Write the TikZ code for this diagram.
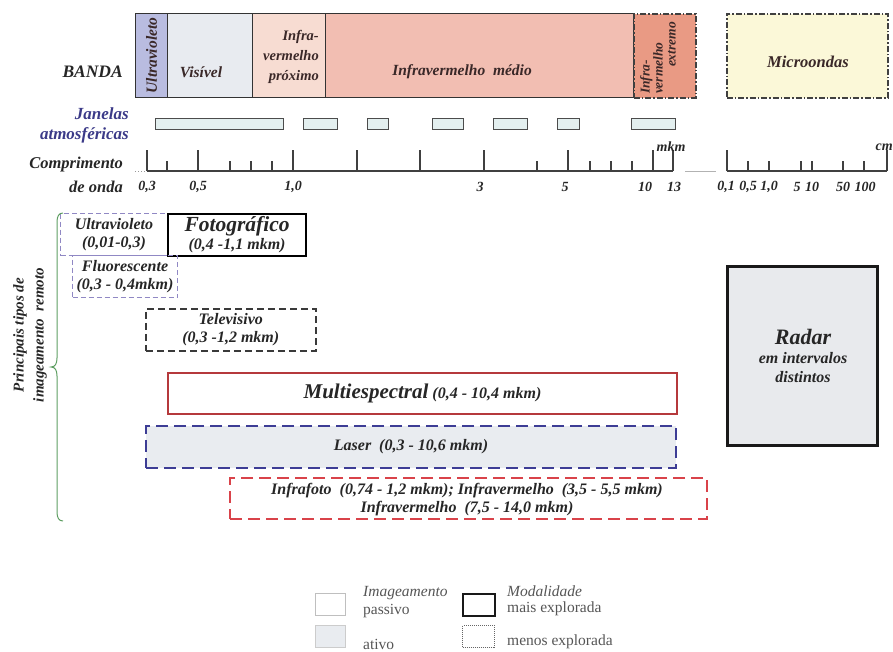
\documentclass[tikz,border=0pt]{standalone}
\usepackage{fontspec}
\setmainfont{Liberation Serif}
\definecolor{uvfill}{HTML}{B9BCE0}
\definecolor{visfill}{HTML}{E8EBF0}
\definecolor{nirfill}{HTML}{F7DCD2}
\definecolor{mirfill}{HTML}{F2BEB2}
\definecolor{firfill}{HTML}{E99A84}
\definecolor{mwfill}{HTML}{FBF8D8}
\definecolor{winfill}{HTML}{E3EFEF}
\definecolor{bandtext}{HTML}{3A2828}
\definecolor{navytext}{HTML}{3B3A88}
\definecolor{lav}{HTML}{9088C4}
\definecolor{tvline}{HTML}{3A3A3A}
\definecolor{multiline}{HTML}{B5393C}
\definecolor{laserline}{HTML}{3D3D95}
\definecolor{infraline}{HTML}{D9434A}
\definecolor{laserfill}{HTML}{E9ECF0}
\definecolor{radarfill}{HTML}{E8EAED}
\definecolor{bracegreen}{HTML}{5E9E62}
\definecolor{legtext}{HTML}{555555}
\begin{document}
\begin{tikzpicture}[x=1pt,y=-1pt,
  bandbox/.style={draw=black!80, line width=1.2pt, inner sep=0pt, anchor=north west},
  dashdotbox/.style={bandbox, draw=black!75, line width=1.5pt, dash pattern=on 6pt off 2pt on 1.5pt off 2pt},
  bandtxt/.style={font=\fontsize{15.5}{20}\selectfont\bfseries\itshape, text=bandtext, inner sep=0pt},
  lbl/.style={font=\fontsize{17}{20}\selectfont\bfseries\itshape, text=black!85, inner sep=0pt},
  win/.style={draw=black!70, fill=winfill, line width=1.2pt, inner sep=0pt, anchor=north west, minimum height=11pt},
  tick/.style={draw=black!75, line width=1.2pt},
  num/.style={font=\fontsize{14}{15}\selectfont\bfseries\itshape, text=black!85, inner sep=0pt},
  imgtxt/.style={font=\fontsize{16}{18}\selectfont\bfseries\itshape, text=black!85, align=center, inner sep=0pt},
  imgbox/.style={imgtxt, anchor=north west},
  legbox/.style={inner sep=0pt, anchor=north west, minimum width=30pt, minimum height=22pt},
  legtxt/.style={font=\fontsize{15.5}{17}\selectfont, text=legtext, inner sep=0pt, anchor=west}
]
\useasboundingbox (0,0) rectangle (893,651);

% ---------- Bands ----------
\node[bandbox, fill=uvfill, minimum width=32pt, minimum height=84pt] (uv) at (135,13) {};
\node[bandbox, fill=visfill, minimum width=85pt, minimum height=84pt] (vis) at (167,13) {};
\node[bandbox, fill=nirfill, minimum width=73pt, minimum height=84pt] (nir) at (252,13) {};
\node[bandbox, fill=mirfill, minimum width=308pt, minimum height=84pt] (mir) at (325,13) {};
\node[dashdotbox, fill=firfill, minimum width=62pt, minimum height=84pt] (fir) at (633,13) {};
\node[dashdotbox, fill=mwfill, minimum width=161pt, minimum height=84pt] (mw) at (726,13) {};

\node[lbl, anchor=east, font=\fontsize{17.5}{20}\selectfont\bfseries\itshape] (banda) at (123,72) {BANDA};
\node[bandtxt, rotate=90] (uvl) at (uv.center) {Ultravioleto};
\node[bandtxt] (visl) at (201,72) {Visível};
\node[bandtxt, align=right, anchor=east, font=\fontsize{14.5}{20}\selectfont\bfseries\itshape] (nirl) at (319,57) {Infra-\\vermelho\\próximo};
\node[bandtxt] (mirl) at (462,72) {Infravermelho\ \ médio};
\node[bandtxt, rotate=90, align=left, font=\fontsize{13.5}{13}\selectfont\bfseries\itshape] (firl) at (658,58) {Infra-\\vermelho\\\hspace*{27pt}extremo};
\node[bandtxt, font=\fontsize{16.5}{20}\selectfont\bfseries\itshape] (mwl) at (808,62) {Microondas};

% ---------- Atmospheric windows ----------
\node[lbl, text=navytext, align=right, anchor=east] (jan) at (129,125) {Janelas\\atmosféricas};
\node[win, minimum width=128pt] (w1) at (155,118) {};
\node[win, minimum width=34pt] (w2) at (303,118) {};
\node[win, minimum width=21pt] (w3) at (367,118) {};
\node[win, minimum width=31pt] (w4) at (432,118) {};
\node[win, minimum width=34pt] (w5) at (493,118) {};
\node[win, minimum width=22pt] (w6) at (557,118) {};
\node[win, minimum width=44pt] (w7) at (631,118) {};

% ---------- Wavelength scale ----------
\node[lbl, align=right, anchor=east, font=\fontsize{16.5}{24}\selectfont\bfseries\itshape] (comp) at (123,175) {Comprimento\\de onda};
\draw[black!40, line width=1pt, dotted] (135,171) -- (147,171);
\draw[tick] (147,171) -- (673,171);
\foreach \x in {147,198,293,357,420,484,568,653,673} \draw[tick] (\x,171) -- (\x,150);
\foreach \x in {167,230,251,272,537,590,611,632} \draw[tick] (\x,171) -- (\x,161);
\draw[black!30, line width=1pt] (685,171) -- (716,171);
\draw[tick] (727,171) -- (887,171);
\foreach \x in {727,887} \draw[tick] (\x,171) -- (\x,150);
\foreach \x in {748,769,801,812,843,864} \draw[tick] (\x,171) -- (\x,161);

\node[num] (n1) at (147,187) {0,3};
\node[num] (n2) at (198,187) {0,5};
\node[num] (n3) at (293,187) {1,0};
\node[num] (n4) at (480,187) {3};
\node[num] (n5) at (565,187) {5};
\node[num] (n6) at (645,187) {10};
\node[num] (n7) at (674,187) {13};
\node[num] (mkm) at (671,147) {mkm};
\node[num] (m1) at (726,187) {0,1};
\node[num] (m2) at (748,187) {0,5};
\node[num] (m3) at (769,187) {1,0};
\node[num] (m4) at (797,187) {5};
\node[num] (m5) at (812,187) {10};
\node[num] (m6) at (843,187) {50};
\node[num] (m7) at (865,187) {100};
\node[num, anchor=east] (cm) at (893,147) {cm};

% ---------- Imaging types ----------
\node[imgbox, draw=lav, line width=1pt, dash pattern=on 5pt off 3pt, minimum width=107pt, minimum height=42pt] (uvb) at (60,213) {Ultravioleto\\(0,01-0,3)};
\node[imgbox, draw=black, line width=2.2pt, minimum width=138pt, minimum height=42pt] (foto) at (167,213) {{\fontsize{21.5}{22}\selectfont Fotográfico}\\(0,4 -1,1 mkm)};
\node[imgbox, draw=lav, line width=1pt, dash pattern=on 5pt off 3pt, minimum width=105pt, minimum height=42pt] (fluo) at (72,255) {Fluorescente\\(0,3 - 0,4mkm)};
\node[imgbox, draw=tvline, line width=1.6pt, dash pattern=on 7pt off 4pt, minimum width=170pt, minimum height=42pt] (tv) at (145,308) {Televisivo\\(0,3 -1,2 mkm)};
\node[imgbox, draw=multiline, line width=2pt, minimum width=509pt, minimum height=41pt] (multi) at (167,372) {{\fontsize{21}{22}\selectfont Multiespectral} (0,4 - 10,4 mkm)};
\node[imgbox, draw=laserline, fill=laserfill, line width=2pt, dash pattern=on 12pt off 6pt, minimum width=530pt, minimum height=42pt] (laser) at (145,425) {Laser\ \ (0,3 - 10,6 mkm)};
\node[imgbox, draw=infraline, line width=2pt, dash pattern=on 12pt off 6pt, minimum width=477pt, minimum height=41pt] (infra) at (229,477) {};
\node[imgtxt] (infral) at (467,500) {Infrafoto\ \ (0,74 - 1,2 mkm); Infravermelho\ \ (3,5 - 5,5 mkm)\\Infravermelho\ \ (7,5 - 14,0 mkm)};
\node[imgbox, draw=black!90, fill=radarfill, line width=2.5pt, minimum width=150pt, minimum height=179pt] (radar) at (726,265) {};
\node[imgtxt, font=\fontsize{16}{19}\selectfont\bfseries\itshape] (radarl) at (803,356) {{\fontsize{22}{24}\selectfont Radar}\\em intervalos\\distintos};

% ---------- Brace and its label ----------
\draw[bracegreen, line width=1pt] (63,213) .. controls (59,213) and (57,216) .. (57,222) -- (57,358) .. controls (57,364) and (55,367) .. (51,367) .. controls (55,367) and (57,370) .. (57,376) -- (57,512) .. controls (57,518) and (59,521) .. (63,521);
\node[lbl, rotate=90, align=center, font=\fontsize{15}{20}\selectfont\bfseries\itshape] (tipos) at (30,335) {Principais tipos de\\imageamento\ \ remoto};

% ---------- Legend ----------
\node[legbox, draw=black!25, fill=white, line width=1pt] (lp) at (315,593) {};
\node[legbox, draw=black!20, fill=laserfill, line width=1pt] (la) at (315,625) {};
\node[legtxt, font=\fontsize{15.5}{17}\selectfont\itshape] (limg) at (363,593) {Imageamento};
\node[legtxt] (lpas) at (363,611) {passivo};
\node[legtxt] (latv) at (363,644) {ativo};
\node[legbox, draw=black!90, line width=2pt, minimum width=32pt] (lm) at (462,593) {};
\node[legbox, draw=black!60, line width=1pt, densely dotted, minimum width=32pt] (ll) at (462,625) {};
\node[legtxt, font=\fontsize{15.5}{17}\selectfont\itshape] (lmod) at (507,591) {Modalidade};
\node[legtxt] (lmais) at (507,609) {mais explorada};
\node[legtxt] (lmenos) at (507,642) {menos explorada};
\end{tikzpicture}
\end{document}
